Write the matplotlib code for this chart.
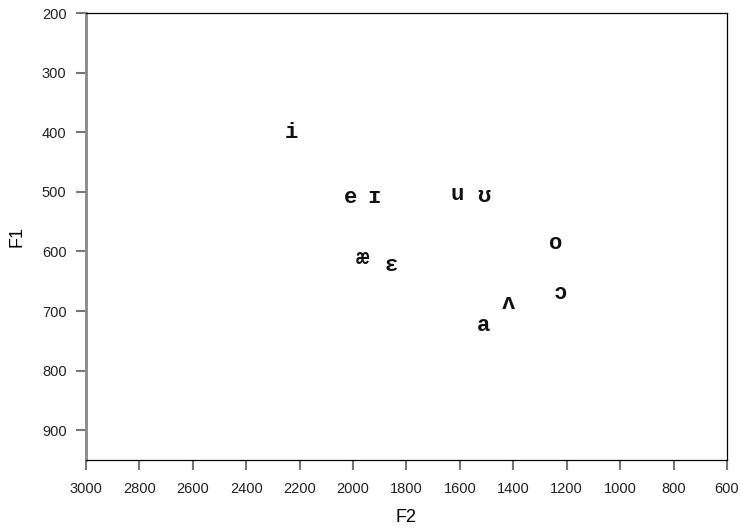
import matplotlib
matplotlib.use("Agg")
import matplotlib.pyplot as plt

# vowel labels with (F2, F1) in Hz
vowels = ["i", "e", "ɪ", "u", "ʊ", "æ", "ɛ", "o", "ɔ", "ʌ", "a"]
f2 = [2230, 2010, 1920, 1610, 1510, 1965, 1855, 1240, 1225, 1420, 1510]
f1 = [400, 510, 510, 505, 508, 612, 623, 587, 670, 687, 725]

x_ticks = list(range(3000, 599, -200))
y_ticks = list(range(200, 901, 100))

plt.rcParams["font.family"] = ["Liberation Sans", "DejaVu Sans"]

fig = plt.figure(figsize=(7.4, 5.31), dpi=100)
ax = fig.add_axes([0.1162, 0.1337, 0.8662, 0.8418])

for v, x, y in zip(vowels, f2, f1):
    ax.text(x, y, v, ha="center", va="center", fontsize=16, fontweight="bold",
            family=["Liberation Mono", "DejaVu Sans Mono"], color="#111111")

ax.set_xlim(3000, 600)
ax.set_ylim(950, 200)
ax.set_xticks(x_ticks)
ax.set_yticks(y_ticks)
ax.tick_params(direction="out", length=7, width=1.5, color="#777777",
               labelsize=10.5, labelcolor="#222222")
ax.tick_params(axis="x", pad=9)
ax.tick_params(axis="y", pad=7)
ax.spines["left"].set_color("#888888")
ax.spines["left"].set_linewidth(2)
ax.spines["bottom"].set_linewidth(0.9)
ax.spines["top"].set_linewidth(0.9)
ax.spines["right"].set_linewidth(0.9)

ax.set_xlabel("F2", fontsize=13, labelpad=9)
ax.set_ylabel("F1", fontsize=13, labelpad=12)

fig.savefig("out.png", dpi=100)
